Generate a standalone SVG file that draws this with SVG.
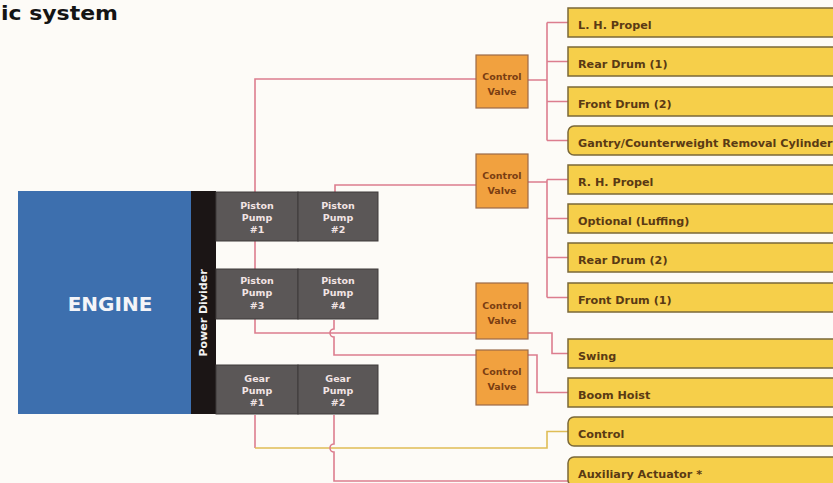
<svg xmlns="http://www.w3.org/2000/svg" width="833" height="483" viewBox="0 0 833 483">
<style>
.t{font-family:"DejaVu Sans","Liberation Sans",sans-serif;font-weight:bold}
.pump rect{fill:#5b5757;stroke:#3f3b3b;stroke-width:1}
.pump text{fill:#f2e4e4;font-size:9.5px;text-anchor:middle}
.cv rect{fill:#f1a13f;stroke:#9c6a48;stroke-width:1.2}
.cv text{fill:#7a3d12;font-size:9.5px;text-anchor:middle}
.bar rect{fill:#f6cf4a;stroke:#7a6838;stroke-width:1.5}
.bar text{fill:#5a3a14;font-size:11.2px}
.c{fill:none;stroke:#dc7d8e;stroke-width:1.6}
.cy{fill:none;stroke:#dfbd55;stroke-width:1.6}
</style>
<rect width="833" height="483" fill="#fdfbf7"/>
<text class="t" x="1" y="20" font-size="19" fill="#141414" textLength="117" lengthAdjust="spacingAndGlyphs">ic system</text>

<g id="connectors">
  <path class="c" d="M476,79 H255 V333 H476"/>
  <path class="c" d="M335,192 V185 H476"/>
  <path class="c" d="M334,320 V329 a4,4 0 0 0 0,8 V355 H537 V392.5 H568"/>
  <path class="c" d="M255,415 V448"/>
  <path class="cy" d="M255,448 H547 V431.5 H568"/>
  <path class="c" d="M334,415 V444 a4,4 0 0 0 0,8 V481 H570"/>
  <path class="c" d="M528,80 H547 M547,22.5 V140.5 M547,22.5 H568 M547,61.5 H568 M547,101.5 H568 M547,140.5 H568"/>
  <path class="c" d="M528,182 H547 M547,179.5 V297.5 M547,179.5 H568 M547,218.5 H568 M547,257.5 H568 M547,297.5 H568"/>
  <path class="c" d="M528,333 H552 V353.5 H568"/>
</g>

<g id="engine">
  <rect x="18" y="191" width="173" height="223" fill="#3d6fae"/>
  <text class="t" x="110" y="311" font-size="20" fill="#f4f4f8" text-anchor="middle">ENGINE</text>
</g>
<g id="power-divider">
  <rect x="191" y="191" width="25" height="223" fill="#1b1515"/>
  <text class="t" transform="translate(207,313) rotate(-90)" font-size="11" fill="#f2f2f2" text-anchor="middle">Power Divider</text>
</g>

<g id="piston-pump-1" class="pump"><rect x="216" y="192" width="82" height="49"/>
  <text class="t" x="257" y="209">Piston</text><text class="t" x="257" y="221">Pump</text><text class="t" x="257" y="233">#1</text></g>
<g id="piston-pump-2" class="pump"><rect x="298" y="192" width="80" height="49"/>
  <text class="t" x="338" y="209">Piston</text><text class="t" x="338" y="221">Pump</text><text class="t" x="338" y="233">#2</text></g>
<g id="piston-pump-3" class="pump"><rect x="216" y="269" width="82" height="50"/>
  <text class="t" x="257" y="284">Piston</text><text class="t" x="257" y="296">Pump</text><text class="t" x="257" y="309">#3</text></g>
<g id="piston-pump-4" class="pump"><rect x="298" y="269" width="80" height="50"/>
  <text class="t" x="338" y="284">Piston</text><text class="t" x="338" y="296">Pump</text><text class="t" x="338" y="309">#4</text></g>
<g id="gear-pump-1" class="pump"><rect x="216" y="365" width="82" height="49"/>
  <text class="t" x="257" y="382">Gear</text><text class="t" x="257" y="394">Pump</text><text class="t" x="257" y="406">#1</text></g>
<g id="gear-pump-2" class="pump"><rect x="298" y="365" width="80" height="49"/>
  <text class="t" x="338" y="382">Gear</text><text class="t" x="338" y="394">Pump</text><text class="t" x="338" y="406">#2</text></g>

<g id="control-valve-1" class="cv"><rect x="476" y="55" width="52" height="53"/>
  <text class="t" x="502" y="80">Control</text><text class="t" x="502" y="95">Valve</text></g>
<g id="control-valve-2" class="cv"><rect x="476" y="154" width="52" height="54"/>
  <text class="t" x="502" y="179">Control</text><text class="t" x="502" y="194">Valve</text></g>
<g id="control-valve-3" class="cv"><rect x="476" y="283" width="52" height="56"/>
  <text class="t" x="502" y="309">Control</text><text class="t" x="502" y="324">Valve</text></g>
<g id="control-valve-4" class="cv"><rect x="476" y="350" width="52" height="55"/>
  <text class="t" x="502" y="375">Control</text><text class="t" x="502" y="390">Valve</text></g>

<g id="lh-propel" class="bar"><rect x="568" y="8" width="300" height="29"/><text class="t" x="578" y="29">L. H. Propel</text></g>
<g id="rear-drum-1" class="bar"><rect x="568" y="47" width="300" height="29"/><text class="t" x="578" y="68">Rear Drum (1)</text></g>
<g id="front-drum-2" class="bar"><rect x="568" y="87" width="300" height="29"/><text class="t" x="578" y="108">Front Drum (2)</text></g>
<g id="gantry" class="bar"><rect x="568" y="126" width="300" height="29" rx="6"/><text class="t" x="578" y="147">Gantry/Counterweight Removal Cylinder</text></g>
<g id="rh-propel" class="bar"><rect x="568" y="165" width="300" height="29"/><text class="t" x="578" y="186">R. H. Propel</text></g>
<g id="optional-luffing" class="bar"><rect x="568" y="204" width="300" height="29"/><text class="t" x="578" y="225">Optional (Luffing)</text></g>
<g id="rear-drum-2" class="bar"><rect x="568" y="243" width="300" height="29"/><text class="t" x="578" y="264">Rear Drum (2)</text></g>
<g id="front-drum-1" class="bar"><rect x="568" y="283" width="300" height="29"/><text class="t" x="578" y="304">Front Drum (1)</text></g>
<g id="swing" class="bar"><rect x="568" y="339" width="300" height="29"/><text class="t" x="578" y="360">Swing</text></g>
<g id="boom-hoist" class="bar"><rect x="568" y="378" width="300" height="29"/><text class="t" x="578" y="399">Boom Hoist</text></g>
<g id="control" class="bar"><rect x="568" y="417" width="300" height="29" rx="6"/><text class="t" x="578" y="438">Control</text></g>
<g id="auxiliary-actuator" class="bar"><rect x="568" y="457" width="300" height="29" rx="6"/><text class="t" x="578" y="478">Auxiliary Actuator *</text></g>
</svg>
